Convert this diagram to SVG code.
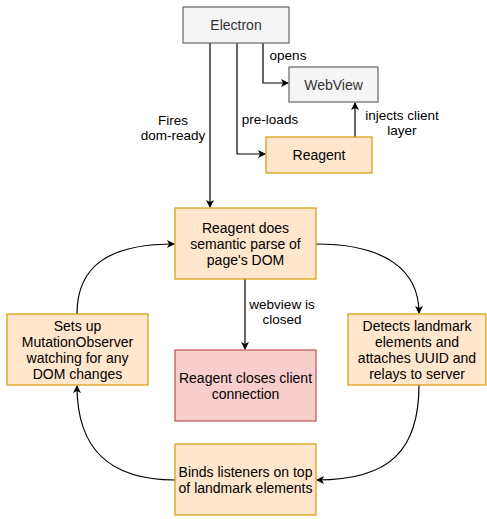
<svg xmlns="http://www.w3.org/2000/svg" width="487" height="519" viewBox="0 0 487 519">
<defs>
<marker id="arr" markerWidth="10" markerHeight="10" refX="8" refY="5" orient="auto" markerUnits="userSpaceOnUse">
<path d="M1,1 L9,5 L1,9 L3,5 Z" fill="#000"/>
</marker>
<style>
.gray{fill:#f5f5f5;stroke:#666666;stroke-width:1.2}
.org{fill:#ffe6cc;stroke:#d79b00;stroke-width:1.2}
.red{fill:#f8cecc;stroke:#b85450;stroke-width:1.2}
.t{font-family:"Liberation Sans",Arial,sans-serif;font-size:14px;text-anchor:middle;fill:#000}
.tg{fill:#333333}
.l{font-family:"Liberation Sans",Arial,sans-serif;font-size:13.5px;text-anchor:middle;fill:#000}
.e{fill:none;stroke:#000;stroke-width:1.2;marker-end:url(#arr)}
</style>
</defs>
<rect width="487" height="519" fill="#fff"/>
<g id="connectors">
<path class="e" d="M210,43 V207"/>
<path class="e" d="M237,43 V154 H265"/>
<path class="e" d="M263,43 V83 H288"/>
<path class="e" d="M355,137 V103"/>
<path class="e" d="M245,279 V349"/>
<path class="e" d="M77,314 C77,265 110,244 174,244"/>
<path class="e" d="M316,244 C385,244 419,270 419,313"/>
<path class="e" d="M419,385 C419,450 390,480 317,480"/>
<path class="e" d="M175,480 C110,480 77,450 77,386"/>
<text class="l" x="288" y="60">opens</text>
<text class="l" x="270" y="124">pre-loads</text>
<text class="l" x="173" y="125">Fires</text>
<text class="l" x="173" y="140">dom-ready</text>
<text class="l" x="402" y="120">injects client</text>
<text class="l" x="402" y="135">layer</text>
<text class="l" x="282" y="309">webview is</text>
<text class="l" x="282" y="324">closed</text>
</g>
<g id="electron">
<rect class="gray" x="183" y="7" width="106" height="36"/>
<text class="t tg" x="236" y="30">Electron</text>
</g>
<g id="webview">
<rect class="gray" x="289" y="67" width="89" height="35"/>
<text class="t tg" x="333.5" y="90">WebView</text>
</g>
<g id="reagent">
<rect class="org" x="266" y="137" width="106" height="36"/>
<text class="t" x="319" y="160">Reagent</text>
</g>
<g id="parse">
<rect class="org" x="175" y="208" width="141" height="71"/>
<text class="t" x="245.5" y="233">Reagent does</text>
<text class="t" x="245.5" y="249">semantic parse of</text>
<text class="t" x="245.5" y="265">page's DOM</text>
</g>
<g id="observer">
<rect class="org" x="7" y="314" width="141" height="71"/>
<text class="t" x="77.5" y="331">Sets up</text>
<text class="t" x="77.5" y="347">MutationObserver</text>
<text class="t" x="77.5" y="363">watching for any</text>
<text class="t" x="77.5" y="379">DOM changes</text>
</g>
<g id="close">
<rect class="red" x="175" y="350" width="141" height="71"/>
<text class="t" x="245.5" y="383">Reagent closes client</text>
<text class="t" x="245.5" y="399">connection</text>
</g>
<g id="detect">
<rect class="org" x="348" y="314" width="138" height="71"/>
<text class="t" x="417" y="331">Detects landmark</text>
<text class="t" x="417" y="347">elements and</text>
<text class="t" x="417" y="363">attaches UUID and</text>
<text class="t" x="417" y="379">relays to server</text>
</g>
<g id="binds">
<rect class="org" x="175" y="444" width="141" height="71"/>
<text class="t" x="245.5" y="477">Binds listeners on top</text>
<text class="t" x="245.5" y="493">of landmark elements</text>
</g>
</svg>
